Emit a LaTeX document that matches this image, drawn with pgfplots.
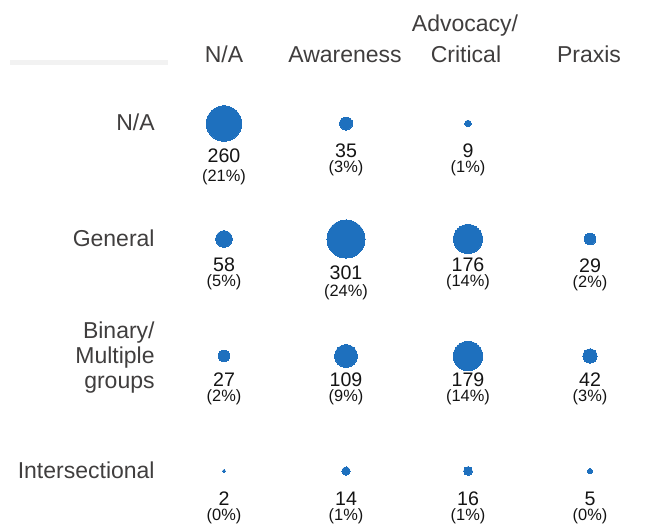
\documentclass[border=0pt]{standalone}
\usepackage{pgfplots}
\usepackage{pgfplotstable}
\pgfplotsset{compat=1.18}
\usepackage{fontspec}
\setmainfont{Liberation Sans}
\definecolor{cblue}{RGB}{30,112,190}
\definecolor{labgray}{RGB}{64,62,62}
\definecolor{numblack}{RGB}{20,20,20}
\pgfplotstableread{
x   y     n    p   nb   pb
224 123.5 260  21  162  181
346 123.5 35   3   157  172
468 123.5 9    1   157  172
224 239   58   5   271  286
346 239   301  24  279  296
468 239   176  14  271  286
590 239   29   2   272  287
224 356   27   2   386  401
346 356   109  9   386  401
468 356   179  14  386  401
590 356   42   3   386  401
224 471   2    0   505  520
346 471   14   1   505  520
468 471   16   1   505  520
590 471   5    0   505  520
}\data
\begin{document}
\begin{tikzpicture}
\begin{axis}[
  scale only axis, width=323pt, height=263pt,
  xmin=0, xmax=646, ymin=0, ymax=526, y dir=reverse,
  hide axis, clip=false,
]
\path (axis cs:0,0) rectangle (axis cs:646,526);
\draw[line width=2.5pt, gray!10] (axis cs:10,62) -- (axis cs:168,62);
% circles
\addplot[scatter, only marks, mark=*,
  scatter/use mapped color={draw=cblue, fill=cblue},
  mark options={draw=cblue, fill=cblue, line width=0pt},
  visualization depends on={0.55*sqrt(\thisrow{n}) \as \msize},
  scatter/@pre marker code/.append style={/tikz/mark size=\msize}]
  table[x=x, y=y] {\data};
% counts
\addplot[draw=none, mark=none, nodes near coords,
  point meta=explicit symbolic,
  visualization depends on={\thisrow{nb}-\thisrow{y} \as \dy},
  nodes near coords style={anchor=base, inner sep=0pt, yshift={-0.5pt*\dy},
    font=\fontsize{9.8}{11}\selectfont, text=numblack}]
  table[x=x, y=y, meta=n] {\data};
% percents
\addplot[draw=none, mark=none, nodes near coords={(\pgfplotspointmeta\%)},
  point meta=explicit symbolic,
  visualization depends on={\thisrow{pb}-\thisrow{y} \as \dy},
  nodes near coords style={anchor=base, inner sep=0pt, yshift={-0.5pt*\dy},
    font=\fontsize{8.2}{9}\selectfont, text=numblack}]
  table[x=x, y=y, meta=p] {\data};
% column headers
\begin{scope}[every node/.style={anchor=base, inner sep=0pt, text=labgray, font=\fontsize{11.5}{13}\selectfont}]
\node at (axis cs:224,62) {N/A};
\node at (axis cs:345,62) {Awareness};
\node at (axis cs:465,31) {Advocacy/};
\node at (axis cs:466,62) {Critical};
\node at (axis cs:589,62) {Praxis};
\end{scope}
% row labels
\begin{scope}[every node/.style={anchor=base east, inner sep=0pt, text=labgray, font=\fontsize{11.5}{13}\selectfont}]
\node at (axis cs:155,130) {N/A};
\node at (axis cs:155,246.5) {General};
\node at (axis cs:155,338) {Binary/};
\node at (axis cs:155,363) {Multiple};
\node at (axis cs:155,388) {groups};
\node at (axis cs:155,478) {Intersectional};
\end{scope}
\end{axis}
\end{tikzpicture}
\end{document}
